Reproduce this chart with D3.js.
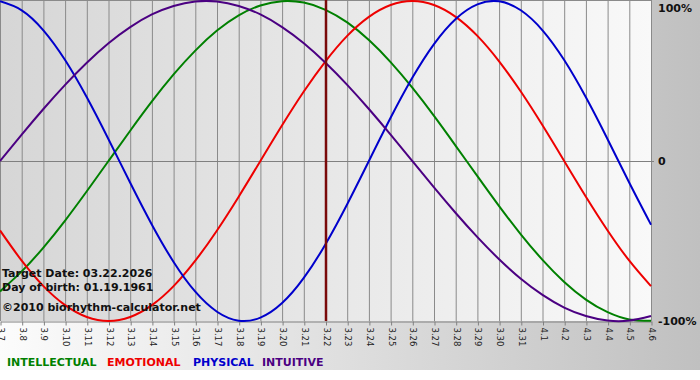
<!DOCTYPE html>
<html>
<head>
<meta charset="utf-8">
<script src="https://cdn.jsdelivr.net/npm/d3@7"></script>
<style>
  body { margin: 0; background: #fff; }
  svg { display: block; }
</style>
</head>
<body>
<div id="chart"></div>
<script>
// day labels along the bottom (3.7 ... 4.6)
const days = ['3.7','3.8','3.9','3.10','3.11','3.12','3.13','3.14','3.15','3.16','3.17','3.18','3.19','3.20','3.21','3.22','3.23','3.24','3.25','3.26','3.27','3.28','3.29','3.30','3.31','4.1','4.2','4.3','4.4','4.5','4.6'];

// values per day, -1 .. 1
const intellectual = [-0.815,-0.690,-0.541,-0.372,-0.189,0,0.189,0.372,0.541,0.690,0.815,0.910,0.972,0.999,0.990,0.945,0.866,0.756,0.618,0.458,0.282,0.095,-0.095,-0.282,-0.458,-0.618,-0.756,-0.866,-0.945,-0.990,-0.999];
const emotional = [-0.434,-0.623,-0.782,-0.901,-0.975,-1,-0.975,-0.901,-0.782,-0.623,-0.434,-0.223,0,0.223,0.434,0.623,0.782,0.901,0.975,1,0.975,0.901,0.782,0.623,0.434,0.223,0,-0.223,-0.434,-0.623,-0.782];
const physical = [0.998,0.942,0.817,0.631,0.398,0.136,-0.136,-0.398,-0.631,-0.817,-0.942,-0.998,-0.979,-0.888,-0.731,-0.520,-0.270,0,0.270,0.520,0.731,0.888,0.979,0.998,0.942,0.817,0.631,0.398,0.136,-0.136,-0.398];
const intuitive = [0,0.165,0.325,0.476,0.614,0.736,0.837,0.916,0.969,0.997,0.997,0.969,0.916,0.837,0.736,0.614,0.476,0.325,0.165,0,-0.165,-0.325,-0.476,-0.614,-0.736,-0.837,-0.916,-0.969,-0.997,-0.997,-0.969];

const yTicks = [1, 0, -1];
const yTickLabels = ['100%', '0', '-100%'];
const targetDay = '3.22';
const infoLines = ['Target Date: 03.22.2026', 'Day of birth: 01.19.1961', '\u00a92010 biorhythm-calculator.net'];

const series = [
  { name: 'INTELLECTUAL', values: intellectual, color: '#008000', lx: 7 },
  { name: 'EMOTIONAL', values: emotional, color: '#ee0000', lx: 107 },
  { name: 'PHYSICAL', values: physical, color: '#0000cc', lx: 193 },
  { name: 'INTUITIVE', values: intuitive, color: '#4b0082', lx: 262 }
];

const width = 700;
const height = 380;
const plot = { left: 0, right: 651, top: 1, bottom: 321 };

const svg = d3.select('#chart')
  .append('svg')
  .attr('width', width)
  .attr('height', height);

const defs = svg.append('defs');
const outerGrad = defs.append('linearGradient').attr('id', 'outerGrad');
outerGrad.append('stop').attr('offset', '0%').attr('stop-color', '#fcfcfc');
outerGrad.append('stop').attr('offset', '100%').attr('stop-color', '#c0c0c0');
const plotGrad = defs.append('linearGradient').attr('id', 'plotGrad');
plotGrad.append('stop').attr('offset', '0%').attr('stop-color', '#d6d6d6');
plotGrad.append('stop').attr('offset', '100%').attr('stop-color', '#f9f9f9');

// backgrounds
svg.append('rect').attr('width', width).attr('height', 370).attr('fill', 'url(#outerGrad)');
svg.append('rect')
  .attr('x', plot.left).attr('y', 0)
  .attr('width', plot.right - plot.left).attr('height', plot.bottom)
  .attr('fill', 'url(#plotGrad)');

const x = d3.scalePoint()
  .domain(days)
  .range([plot.left, plot.right]);

const y = d3.scaleLinear()
  .domain([-1, 1])
  .range([plot.bottom, plot.top]);

// vertical day grid
svg.append('g')
  .selectAll('line')
  .data(days)
  .enter()
  .append('line')
  .attr('x1', d => x(d) + 0.5).attr('x2', d => x(d) + 0.5)
  .attr('y1', 0).attr('y2', plot.bottom)
  .attr('stroke', '#8a8a8a')
  .attr('stroke-width', 1);

// top border
svg.append('line')
  .attr('x1', plot.left).attr('x2', plot.right)
  .attr('y1', 0.5).attr('y2', 0.5)
  .attr('stroke', '#8a8a8a');

// zero line
svg.append('line')
  .attr('x1', plot.left).attr('x2', plot.right + 3)
  .attr('y1', Math.round(y(0)) + 0.5).attr('y2', Math.round(y(0)) + 0.5)
  .attr('stroke', '#808080');

// X-axis
const xAxis = svg.append('g')
  .attr('transform', `translate(0.5,${plot.bottom + 0.5})`)
  .call(d3.axisBottom(x).tickSize(4).tickSizeOuter(0));
xAxis.select('.domain').attr('stroke', '#808080');
xAxis.selectAll('.tick line').attr('stroke', '#808080');
xAxis.selectAll('text')
  .attr('transform', 'rotate(90)')
  .attr('x', 6)
  .attr('y', 0)
  .attr('dy', '0.35em')
  .style('text-anchor', 'start')
  .style('font-family', "'DejaVu Sans', sans-serif")
  .style('font-size', '8.5px')
  .attr('fill', '#222');

// Y-axis (right side labels)
const yAxis = svg.append('g')
  .attr('transform', `translate(${plot.right},0)`)
  .call(d3.axisRight(y).tickValues(yTicks).tickSize(0)
    .tickFormat((d, i) => yTickLabels[i]));
yAxis.select('.domain').remove();
yAxis.selectAll('text')
  .attr('x', 7)
  .style('font-family', "'DejaVu Sans', sans-serif")
  .style('font-weight', 'bold')
  .style('font-size', '11px')
  .attr('fill', '#111');
yAxis.selectAll('.tick').filter(d => d === 1).select('text').attr('dy', '0.95em');

// curves
const line = d3.line()
  .x((d, i) => x(days[i]))
  .y(d => y(d))
  .curve(d3.curveNatural);

svg.append('g')
  .selectAll('path')
  .data(series)
  .enter()
  .append('path')
  .attr('d', d => line(d.values))
  .attr('fill', 'none')
  .attr('stroke', d => d.color)
  .attr('stroke-width', 2);

// target day marker
svg.append('line')
  .attr('x1', x(targetDay) + 0.5).attr('x2', x(targetDay) + 0.5)
  .attr('y1', 0).attr('y2', plot.bottom)
  .attr('stroke', '#7a0a0a')
  .attr('stroke-width', 2.5);

// info text
svg.append('g')
  .selectAll('text')
  .data(infoLines)
  .enter()
  .append('text')
  .attr('x', 2)
  .attr('y', (d, i) => [277, 291, 311][i])
  .style('font-family', "'DejaVu Sans', sans-serif")
  .style('font-weight', 'bold')
  .style('font-size', '11px')
  .attr('fill', '#111')
  .text(d => d);

// legend
svg.append('g')
  .selectAll('text')
  .data(series)
  .enter()
  .append('text')
  .attr('x', d => d.lx)
  .attr('y', 366)
  .style('font-family', "'DejaVu Sans', sans-serif")
  .style('font-weight', 'bold')
  .style('font-size', '11px')
  .attr('fill', d => d.color)
  .text(d => d.name);
</script>
</body>
</html>
